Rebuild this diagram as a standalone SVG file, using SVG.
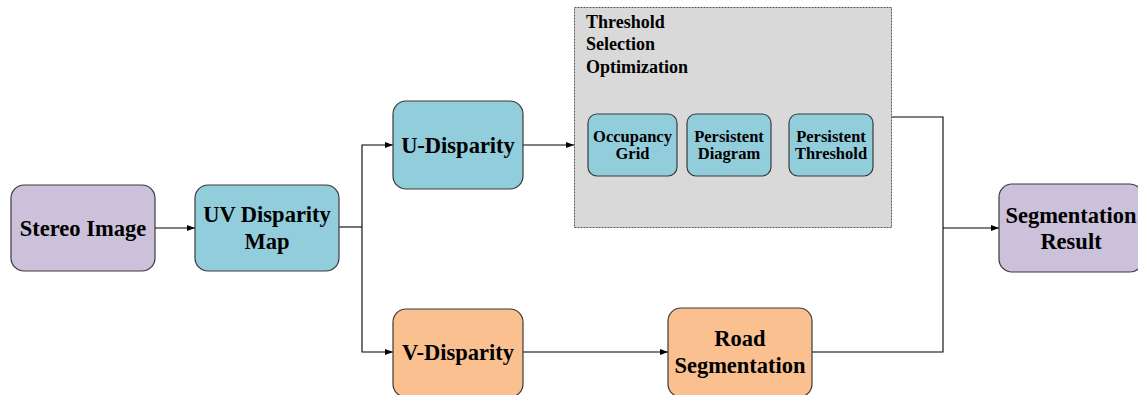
<svg xmlns="http://www.w3.org/2000/svg" width="1138" height="395" viewBox="0 0 1138 395">
<defs>
<marker id="arr" markerWidth="8" markerHeight="8" refX="8" refY="4" orient="auto" markerUnits="userSpaceOnUse">
<path d="M0,1 L8,4 L0,7 Z" fill="#000"/>
</marker>
<style>
.box{stroke:#3a3a3a;stroke-width:1.2}
.purple{fill:#CCC1DA}
.teal{fill:#92CDDC}
.orange{fill:#FAC090}
.t{font-family:"Liberation Serif","Times New Roman",serif;font-weight:bold;fill:#000;text-anchor:middle}
.big{font-size:22.5px}
.small{font-size:16.5px}
.title{font-family:"Liberation Serif","Times New Roman",serif;font-weight:bold;font-size:18px;fill:#000}
.c{fill:none;stroke:#000;stroke-width:1.1}
</style>
</defs>
<rect width="1138" height="395" fill="#fff"/>

<g id="group-threshold">
<rect x="574.5" y="7.5" width="317" height="220" fill="#D9D9D9" stroke="#555" stroke-width="1" stroke-dasharray="2,1"/>
<text class="title" x="586" y="28">Threshold</text>
<text class="title" x="586" y="50">Selection</text>
<text class="title" x="586" y="73">Optimization</text>
</g>

<g id="connectors">
<line class="c" x1="155" y1="228" x2="195" y2="228" marker-end="url(#arr)"/>
<polyline class="c" points="339,227 362,227"/>
<polyline class="c" points="362,227 362,145 393,145" marker-end="url(#arr)"/>
<polyline class="c" points="362,227 362,352 393,352" marker-end="url(#arr)"/>
<line class="c" x1="523" y1="145" x2="574" y2="145" marker-end="url(#arr)"/>
<line class="c" x1="523" y1="352" x2="668" y2="352" marker-end="url(#arr)"/>
<polyline class="c" points="892,117 943,117 943,228"/>
<polyline class="c" points="812,352 943,352 943,228"/>
<line class="c" x1="943" y1="228" x2="999" y2="228" marker-end="url(#arr)"/>
</g>

<g id="node-stereo">
<rect class="box purple" x="11" y="185" width="144" height="86" rx="13"/>
<text class="t big" x="83" y="236">Stereo Image</text>
</g>
<g id="node-uvmap">
<rect class="box teal" x="195" y="185" width="144" height="86" rx="13"/>
<text class="t big" x="267" y="222">UV Disparity</text>
<text class="t big" x="267" y="249">Map</text>
</g>
<g id="node-udisp">
<rect class="box teal" x="393" y="101" width="130" height="88" rx="13"/>
<text class="t big" x="458" y="153">U-Disparity</text>
</g>
<g id="node-vdisp">
<rect class="box orange" x="393" y="309" width="130" height="88" rx="13"/>
<text class="t big" x="458" y="360">V-Disparity</text>
</g>
<g id="node-occupancy">
<rect class="box teal" x="588" y="114" width="89" height="62" rx="9"/>
<text class="t small" x="632.5" y="142">Occupancy</text>
<text class="t small" x="632.5" y="159">Grid</text>
</g>
<g id="node-pdiagram">
<rect class="box teal" x="687" y="114" width="84" height="62" rx="9"/>
<text class="t small" x="729" y="142">Persistent</text>
<text class="t small" x="729" y="159">Diagram</text>
</g>
<g id="node-pthreshold">
<rect class="box teal" x="789" y="114" width="84" height="62" rx="9"/>
<text class="t small" x="831" y="142">Persistent</text>
<text class="t small" x="831" y="159">Threshold</text>
</g>
<g id="node-road">
<rect class="box orange" x="668" y="308" width="144" height="89" rx="13"/>
<text class="t big" x="740" y="346">Road</text>
<text class="t big" x="740" y="373">Segmentation</text>
</g>
<g id="node-result">
<rect class="box purple" x="999" y="184" width="144" height="88" rx="13"/>
<text class="t big" x="1071" y="223">Segmentation</text>
<text class="t big" x="1071" y="249">Result</text>
</g>
</svg>
